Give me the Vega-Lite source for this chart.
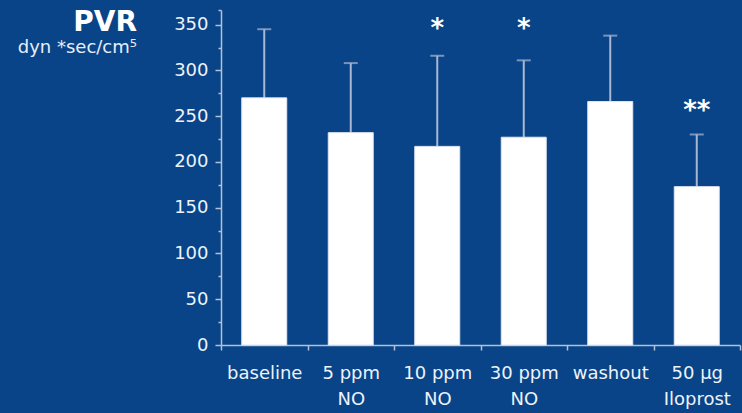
{
  "$schema": "https://vega.github.io/schema/vega-lite/v6.json",
  "width": 519,
  "height": 335,
  "autosize": {"type": "none"},
  "padding": {"left": 221, "top": 10, "right": 2, "bottom": 68},
  "background": "#084487",
  "config": {"view": {"stroke": null}, "font": "DejaVu Sans"},
  "title": {
    "text": "PVR",
    "subtitle": "dyn *sec/cm⁵",
    "anchor": "start",
    "frame": "group",
    "align": "right",
    "dx": -84,
    "offset": -48,
    "font": "DejaVu Sans",
    "fontSize": 28,
    "fontWeight": "bold",
    "color": "white",
    "subtitleFont": "DejaVu Sans",
    "subtitleFontSize": 18,
    "subtitleColor": "#e8eef8",
    "subtitlePadding": 2
  },
  "data": {
    "values": [
      {"cond": "baseline", "pvr": 270, "err": 345, "sig": "", "starAt": null},
      {"cond": "5 ppm|NO", "pvr": 232, "err": 308, "sig": "", "starAt": null},
      {"cond": "10 ppm|NO", "pvr": 217, "err": 316, "sig": "*", "starAt": 350},
      {"cond": "30 ppm|NO", "pvr": 227, "err": 311, "sig": "*", "starAt": 350},
      {"cond": "washout", "pvr": 266, "err": 338, "sig": "", "starAt": null},
      {"cond": "50 µg|Iloprost", "pvr": 173, "err": 230, "sig": "**", "starAt": 260}
    ]
  },
  "encoding": {
    "x": {
      "field": "cond",
      "type": "nominal",
      "sort": null,
      "scale": {"paddingInner": 0, "paddingOuter": 0},
      "axis": {
        "title": null,
        "labelAngle": 0,
        "labelExpr": "split(datum.label, '|')",
        "labelFontSize": 18,
        "labelColor": "#eef2f9",
        "labelPadding": 14,
        "labelLineHeight": 26,
        "labelBaseline": "top",
        "tickBand": "extent",
        "tickSize": 5,
        "tickColor": "#b4c0d8",
        "tickWidth": 1.5,
        "domainColor": "#b4c0d8",
        "domainWidth": 1.5
      }
    }
  },
  "layer": [
    {
      "mark": {"type": "rule", "color": "#a9b7d2", "strokeWidth": 2},
      "encoding": {
        "y": {
          "field": "pvr",
          "type": "quantitative",
          "scale": {"domain": [0, 366], "nice": false},
          "axis": {
            "orient": "left",
            "title": null,
            "values": [0, 50, 100, 150, 200, 250, 300, 350],
            "grid": false,
            "labelFontSize": 18,
            "labelColor": "#eef2f9",
            "labelPadding": 7,
            "tickSize": 6,
            "tickColor": "#b4c0d8",
            "tickWidth": 1.5,
            "domainColor": "#b4c0d8",
            "domainWidth": 1.5
          }
        },
        "y2": {"field": "err"}
      }
    },
    {
      "mark": {"type": "tick", "color": "#a9b7d2", "thickness": 2, "size": 14},
      "encoding": {
        "y": {
          "field": "err",
          "type": "quantitative",
          "scale": {"domain": [0, 366], "nice": false},
          "axis": {
            "orient": "left",
            "title": null,
            "values": [25, 75, 125, 175, 225, 275, 325, 366],
            "grid": false,
            "labels": false,
            "domain": false,
            "tickSize": 3,
            "tickColor": "#b4c0d8",
            "tickWidth": 1.5
          }
        }
      }
    },
    {
      "mark": {"type": "bar", "color": "white", "stroke": "#dfe5f0", "strokeWidth": 1, "width": {"band": 0.52}},
      "encoding": {
        "y": {"field": "pvr", "type": "quantitative", "scale": {"domain": [0, 366], "nice": false}, "axis": null}
      }
    },
    {
      "mark": {"type": "text", "color": "white", "font": "DejaVu Sans", "fontWeight": "bold", "fontSize": 26, "baseline": "middle", "dy": 4},
      "encoding": {
        "y": {"field": "starAt", "type": "quantitative", "scale": {"domain": [0, 366], "nice": false}, "axis": null},
        "text": {"field": "sig"}
      }
    }
  ],
  "resolve": {"axis": {"y": "independent"}}
}
